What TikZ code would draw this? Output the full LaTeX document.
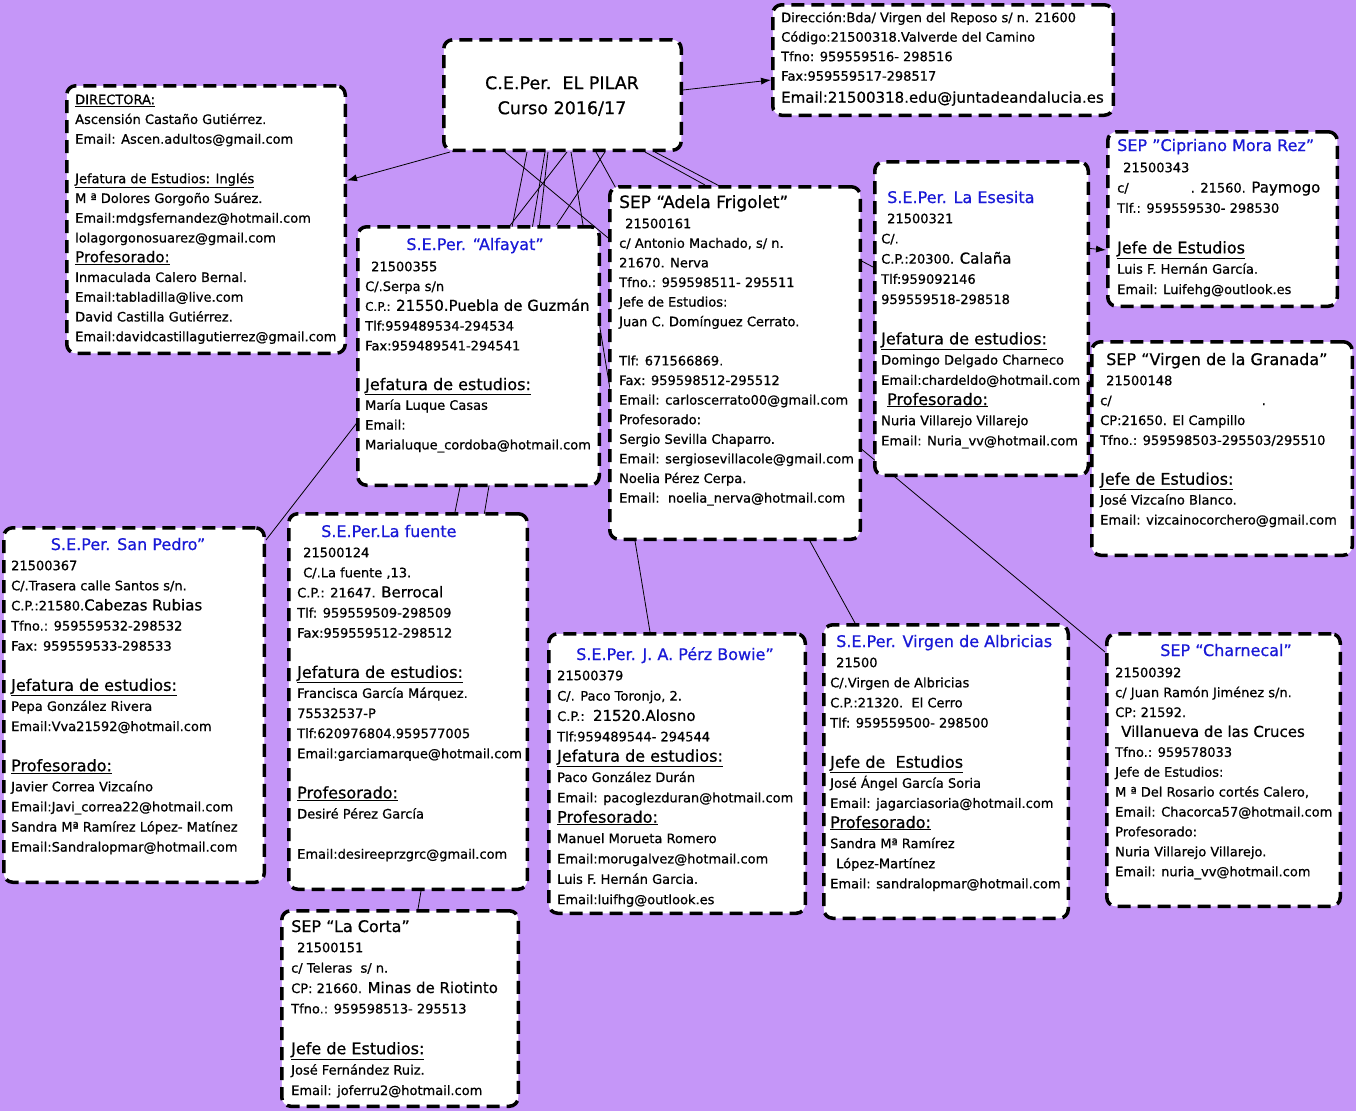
\documentclass[tikz,border=0pt]{standalone}
\usepackage{fontspec}
\setmainfont{DejaVu Sans}[FakeBold=0.7]
\usetikzlibrary{arrows.meta}
\definecolor{bgpurple}{RGB}{197,150,248}
\definecolor{ttlblue}{RGB}{25,25,215}
\newcommand\hdtxt[1]{{\fontsize{16}{16}\selectfont\underline{#1}}}
\newcommand\bigtxt[1]{{\fontsize{15}{15}\selectfont #1}}
\newcommand\smtxt[1]{{\fontsize{12}{12}\selectfont #1}}
\newcommand\fst{\rule{0pt}{14pt}}
\pgfdeclarelayer{back}
\pgfdeclarelayer{links}
\pgfsetlayers{back,links,main}
\begin{document}
\begin{tikzpicture}[x=1pt,y=-1pt,
 box/.style={rectangle, draw=black, fill=white, line width=3.5pt, dash pattern=on 13pt off 7pt, rounded corners=9pt, inner sep=0pt},
 txt/.style={anchor=north west, align=left, inner sep=0pt, font=\fontsize{13}{19.8}\selectfont},
 ttl/.style={anchor=base west, inner sep=0pt, font=\fontsize{16}{16}\selectfont},
 bttl/.style={ttl, text=ttlblue},
 link/.style={draw=black, line width=0.8pt},
 arr/.style={link, -{Latex[length=10pt,width=7pt]}}]

\useasboundingbox (0,0) rectangle (1356,1111);
\begin{pgfonlayer}{back}
\fill[bgpurple] (0,0) rectangle (1356,1111);
\end{pgfonlayer}

% boxes
\node[box, minimum width=278.5pt, minimum height=267.5pt] (dir) at (206,219.5) {};
\node[box, minimum width=237.5pt, minimum height=110.5pt] (main) at (562.5,95) {};
\node[box, minimum width=340.5pt, minimum height=110.5pt] (addr) at (943,60) {};
\node[box, minimum width=241.5pt, minimum height=258.5pt] (alf) at (478.5,356) {};
\node[box, minimum width=250.5pt, minimum height=352.5pt] (ade) at (735,363) {};
\node[box, minimum width=213.5pt, minimum height=313.5pt] (ese) at (981.5,318.5) {};
\node[box, minimum width=229.5pt, minimum height=174.5pt] (cip) at (1222.5,219) {};
\node[box, minimum width=260.5pt, minimum height=213.5pt] (gra) at (1222,448.5) {};
\node[box, minimum width=260.5pt, minimum height=354.5pt] (sp) at (134,705) {};
\node[box, minimum width=238.5pt, minimum height=375.5pt] (fue) at (408,701.5) {};
\node[box, minimum width=236.5pt, minimum height=195.5pt] (cor) at (400,1008.5) {};
\node[box, minimum width=256.5pt, minimum height=279.5pt] (bow) at (677,773.5) {};
\node[box, minimum width=244.5pt, minimum height=293.5pt] (alb) at (946,771.5) {};
\node[box, minimum width=233.5pt, minimum height=272.5pt] (cha) at (1223.5,770) {};

% hidden links behind boxes
\begin{pgfonlayer}{links}
\draw[link] ([xshift=125pt]main.south west) -- ([yshift=-14pt]sp.north east);
\draw[link] ([xshift=85pt]main.south west) -- ([xshift=47pt]fue.north);
\draw[link] ([xshift=103pt]main.south west) -- ([xshift=18pt]cor.north);
\draw[link] ([xshift=129pt]main.south west) -- ([xshift=-27pt]bow.north);
\draw[link] ([xshift=154pt]main.south west) -- ([xshift=-91pt]alb.north);
\draw[link] ([xshift=63pt]main.south west) -- ([yshift=-20pt]cha.north west);
\draw[link] ([xshift=213pt]main.south west) -- ([yshift=67pt]gra.west);
\draw[link] ([xshift=163pt]main.south west) -- ([xshift=78pt]alf.north);
\draw[link] ([xshift=106pt]main.south west) -- ([xshift=61pt]alf.north);
\draw[link] ([xshift=203pt]main.south west) -- ([xshift=-30pt]ade.north);
\end{pgfonlayer}

% arrows
\draw[arr] ([xshift=8pt]main.south west) -- ([yshift=39pt]dir.east);
\draw[arr] ([yshift=5pt]main.east) -- ([yshift=-20pt]addr.west);
\draw[arr] ([yshift=70pt]ese.east) -- ([yshift=-31pt]cip.west);

% texts
\node[txt, font=\fontsize{13}{19.75}\selectfont] (dirT) at (75,90) {\fst\underline{DIRECTORA:}\\
Ascensión Castaño Gutiérrez.\\
Email: Ascen.adultos@gmail.com\\
\mbox{}\\
\underline{Jefatura de Estudios: Inglés}\\
M ª Dolores Gorgoño Suárez.\\
Email:mdgsfernandez@hotmail.com\\
lolagorgonosuarez@gmail.com\\
{\fontsize{15}{15}\selectfont\underline{Profesorado:}}\\
Inmaculada Calero Bernal.\\
Email:tabladilla@live.com\\
David Castilla Gutiérrez.\\
Email:davidcastillagutierrez@gmail.com};

\node[align=center, inner sep=0pt, font=\fontsize{17.5}{25}\selectfont] (mainT) at (562,96) {C.E.Per.\ \ EL PILAR\\Curso 2016/17};

\node[txt, font=\fontsize{13}{19.5}\selectfont] (addrT) at (781,8) {\fst Dirección:Bda/ Virgen del Reposo s/ n. 21600\\
Código:21500318.Valverde del Camino\\
Tfno: 959559516- 298516\\
Fax:959559517-298517\\[2.5pt]
{\fontsize{15}{15}\selectfont Email:21500318.edu@juntadeandalucia.es}};

\node[bttl, anchor=base] (alfH) at (475,250) {S.E.Per. “Alfayat”};
\node[txt] (alfT) at (365,257) {\fst\hspace*{6pt}21500355\\
C/.Serpa s/n\\
\smtxt{C.P.:} \bigtxt{21550.Puebla de Guzmán}\\
Tlf:959489534-294534\\
Fax:959489541-294541\\
\mbox{}\\
\hdtxt{Jefatura de estudios:}\\
María Luque Casas\\
Email:\\
Marialuque\_cordoba@hotmail.com};

\node[ttl, font=\fontsize{17}{17}\selectfont] (adeH) at (619,208) {SEP “Adela Frigolet”};
\node[txt, font=\fontsize{13}{19.6}\selectfont] (adeT) at (619,214) {\fst\hspace*{6pt}21500161\\
c/ Antonio Machado, s/ n.\\
21670. Nerva\\
Tfno.: 959598511- 295511\\
Jefe de Estudios:\\
Juan C. Domínguez Cerrato.\\
\mbox{}\\
Tlf: 671566869.\\
Fax: 959598512-295512\\
Email: carloscerrato00@gmail.com\\
Profesorado:\\
Sergio Sevilla Chaparro.\\
Email: sergiosevillacole@gmail.com\\
Noelia Pérez Cerpa.\\
Email:\ \ noelia\_nerva@hotmail.com};

\node[bttl] (eseH) at (887,203) {S.E.Per. La Esesita};
\node[txt, font=\fontsize{13}{20.2}\selectfont] (eseT) at (881,209) {\fst\hspace*{6pt}21500321\\
C/.\\
C.P.:20300. \bigtxt{Calaña}\\
Tlf:959092146\\
959559518-298518\\
\mbox{}\\
\hdtxt{Jefatura de estudios:}\\
Domingo Delgado Charneco\\
Email:chardeldo@hotmail.com\\
\hspace*{6pt}\hdtxt{Profesorado:}\\
Nuria Villarejo Villarejo\\
Email: Nuria\_vv@hotmail.com};

\node[bttl] (cipH) at (1117,151) {SEP "Cipriano Mora Rez"};
\node[txt, font=\fontsize{13}{20.3}\selectfont] (cipT) at (1117,158) {\fst\hspace*{6pt}21500343\\
c/\hspace*{62pt}. 21560. \bigtxt{Paymogo}\\
Tlf.: 959559530- 298530\\
\mbox{}\\
\hdtxt{Jefe de Estudios}\\
Luis F. Hernán García.\\
Email: Luifehg@outlook.es};

\node[ttl] (graH) at (1106,365) {SEP “Virgen de la Granada”};
\node[txt, font=\fontsize{13}{19.9}\selectfont] (graT) at (1100,371) {\fst\hspace*{6pt}21500148\\
c/\hspace*{150pt}.\\
CP:21650. El Campillo\\
Tfno.: 959598503-295503/295510\\
\mbox{}\\
\hdtxt{Jefe de Estudios:}\\
José Vizcaíno Blanco.\\
Email: vizcainocorchero@gmail.com};

\node[bttl, anchor=base] (spH) at (128,550) {S.E.Per. San Pedro”};
\node[txt, font=\fontsize{13}{20.1}\selectfont] (spT) at (11,556) {\fst 21500367\\
C/.Trasera calle Santos s/n.\\
C.P.:21580.\bigtxt{Cabezas Rubias}\\
Tfno.: 959559532-298532\\
Fax: 959559533-298533\\
\mbox{}\\
\hdtxt{Jefatura de estudios:}\\
Pepa González Rivera\\
Email:Vva21592@hotmail.com\\
\mbox{}\\
\hdtxt{Profesorado:}\\
Javier Correa Vizcaíno\\
Email:Javi\_correa22@hotmail.com\\
Sandra Mª Ramírez López- Matínez\\
Email:Sandralopmar@hotmail.com};

\node[bttl] (fueH) at (321,537) {S.E.Per.La fuente};
\node[txt, font=\fontsize{13}{20.1}\selectfont] (fueT) at (297,543) {\fst\hspace*{6pt}21500124\\
\hspace*{6pt}C/.La fuente ,13.\\
C.P.: 21647. \bigtxt{Berrocal}\\
Tlf: 959559509-298509\\
Fax:959559512-298512\\
\mbox{}\\
\hdtxt{Jefatura de estudios:}\\
Francisca García Márquez.\\
75532537-P\\
Tlf:620976804.959577005\\
Email:garciamarque@hotmail.com\\
\mbox{}\\
\hdtxt{Profesorado:}\\
Desiré Pérez García\\
\mbox{}\\
Email:desireeprzgrc@gmail.com};

\node[ttl] (corH) at (291,932) {SEP “La Corta”};
\node[txt, font=\fontsize{13}{20.4}\selectfont] (corT) at (291,938) {\fst\hspace*{6pt}21500151\\
c/ Teleras\ \ s/ n.\\
CP: 21660. \bigtxt{Minas de Riotinto}\\
Tfno.: 959598513- 295513\\
\mbox{}\\
\hdtxt{Jefe de Estudios:}\\
José Fernández Ruiz.\\
Email: joferru2@hotmail.com};

\node[bttl] (bowH) at (576,660) {S.E.Per. J. A. Pérz Bowie”};
\node[txt, font=\fontsize{13}{20.36}\selectfont] (bowT) at (557,666) {\fst 21500379\\
C/. Paco Toronjo, 2.\\
C.P.:\ \ \bigtxt{21520.Alosno}\\
Tlf:959489544- 294544\\
\hdtxt{Jefatura de estudios:}\\
Paco González Durán\\
Email: pacoglezduran@hotmail.com\\
\hdtxt{Profesorado:}\\
Manuel Morueta Romero\\
Email:morugalvez@hotmail.com\\
Luis F. Hernán Garcia.\\
Email:luifhg@outlook.es};

\node[bttl] (albH) at (836,647) {S.E.Per. Virgen de Albricias};
\node[txt, font=\fontsize{13}{20.1}\selectfont] (albT) at (830,653) {\fst\hspace*{6pt}21500\\
C/.Virgen de Albricias\\
C.P.:21320.\ \ El Cerro\\
Tlf: 959559500- 298500\\
\mbox{}\\
\hdtxt{Jefe de\ \ Estudios}\\
José Ángel García Soria\\
Email: jagarciasoria@hotmail.com\\
\hdtxt{Profesorado:}\\
Sandra Mª Ramírez\\
\hspace*{6pt}López-Martínez\\
Email: sandralopmar@hotmail.com};

\node[bttl, anchor=base] (chaH) at (1226,656) {SEP “Charnecal”};
\node[txt, font=\fontsize{13}{19.9}\selectfont] (chaT) at (1115,663) {\fst 21500392\\
c/ Juan Ramón Jiménez s/n.\\
CP: 21592.\\
\hspace*{6pt}\bigtxt{Villanueva de las Cruces}\\
Tfno.: 959578033\\
Jefe de Estudios:\\
M ª Del Rosario cortés Calero,\\
Email: Chacorca57@hotmail.com\\
Profesorado:\\
Nuria Villarejo Villarejo.\\
Email: nuria\_vv@hotmail.com};

\end{tikzpicture}
\end{document}
